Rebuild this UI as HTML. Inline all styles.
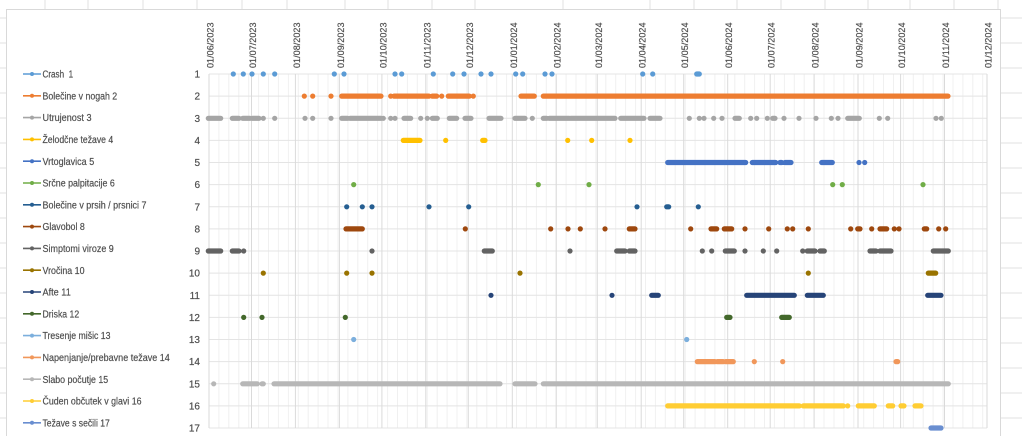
<!DOCTYPE html>
<html><head><meta charset="utf-8"><style>
html,body{margin:0;padding:0;background:#fff;width:1022px;height:436px;overflow:hidden}
svg{display:block}
text{font-family:"Liberation Sans",sans-serif;fill:#4a4a4a;stroke:#595959;stroke-width:0.2}
</style></head><body>
<svg width="1022" height="436" viewBox="0 0 1022 436" xmlns="http://www.w3.org/2000/svg">
<g stroke="#E2E2E2" stroke-width="1" fill="none">
<path d="M45 0V9 M88 0V9 M143 0V9 M197 0V9 M242 0V9 M287 0V9 M345 0V9 M388 0V9 M432 0V9 M475 0V9 M563 0V9 M650 0V9 M694 0V9 M737 0V9 M781 0V9 M825 0V9 M868 0V9 M910 0V9 M954 0V9 M998 0V9"/>
<path d="M0 18H6 M0 43H6 M0 68H6 M0 93H6 M0 118H6 M0 143H6 M0 168H6 M0 193H6 M0 218H6 M0 243H6 M0 268H6 M0 293H6 M0 318H6 M0 343H6 M0 368H6 M0 393H6 M0 418H6"/>
<path d="M1001 18H1022 M1001 43H1022 M1001 68H1022 M1001 93H1022 M1001 118H1022 M1001 143H1022 M1001 168H1022 M1001 193H1022 M1001 218H1022 M1001 243H1022 M1001 268H1022 M1001 293H1022 M1001 318H1022 M1001 343H1022 M1001 368H1022 M1001 393H1022 M1001 418H1022"/>
</g>
<rect x="6.5" y="9.5" width="994" height="440" fill="#fff" stroke="#D9D9D9" stroke-width="1"/>
<path stroke="#F0F0F0" stroke-width="1" fill="none" d="M218.9 74V428 M228.8 74V428 M238.8 74V428 M248.7 74V428 M258.6 74V428 M268.5 74V428 M278.4 74V428 M288.4 74V428 M298.3 74V428 M308.2 74V428 M318.1 74V428 M328 74V428 M338 74V428 M347.9 74V428 M357.8 74V428 M367.7 74V428 M377.6 74V428 M387.6 74V428 M397.5 74V428 M407.4 74V428 M417.3 74V428 M427.2 74V428 M437.2 74V428 M447.1 74V428 M457 74V428 M466.9 74V428 M476.8 74V428 M486.8 74V428 M496.7 74V428 M506.6 74V428 M516.5 74V428 M526.4 74V428 M536.4 74V428 M546.3 74V428 M556.2 74V428 M566.1 74V428 M576 74V428 M586 74V428 M595.9 74V428 M605.8 74V428 M615.7 74V428 M625.6 74V428 M635.6 74V428 M645.5 74V428 M655.4 74V428 M665.3 74V428 M675.2 74V428 M685.2 74V428 M695.1 74V428 M705 74V428 M714.9 74V428 M724.8 74V428 M734.8 74V428 M744.7 74V428 M754.6 74V428 M764.5 74V428 M774.4 74V428 M784.4 74V428 M794.3 74V428 M804.2 74V428 M814.1 74V428 M824 74V428 M834 74V428 M843.9 74V428 M853.8 74V428 M863.7 74V428 M873.6 74V428 M883.5 74V428 M893.5 74V428 M903.4 74V428 M913.3 74V428 M923.2 74V428 M933.1 74V428 M943.1 74V428 M953 74V428 M962.9 74V428 M972.8 74V428 M982.7 74V428"/>
<path stroke="#E4E4E4" stroke-width="1" fill="none" d="M209 74H987 M209 96.1H987 M209 118.3H987 M209 140.4H987 M209 162.5H987 M209 184.6H987 M209 206.8H987 M209 228.9H987 M209 251H987 M209 273.1H987 M209 295.3H987 M209 317.4H987 M209 339.5H987 M209 361.6H987 M209 383.8H987 M209 405.9H987 M209 428H987"/>
<path stroke="#DADADA" stroke-width="1" fill="none" d="M209 74V428 M251.5 74V428 M295.4 74V428 M339.4 74V428 M381.9 74V428 M425.8 74V428 M468.3 74V428 M512.3 74V428 M556.2 74V428 M597.3 74V428 M641.2 74V428 M683.7 74V428 M727.7 74V428 M770.2 74V428 M814.1 74V428 M858 74V428 M900.6 74V428 M944.5 74V428 M987 74V428"/>
<g font-size="9">
<text transform="translate(213.5,68) rotate(-90)" textLength="45.5" lengthAdjust="spacing">01/06/2023</text>
<text transform="translate(256,68) rotate(-90)" textLength="45.5" lengthAdjust="spacing">01/07/2023</text>
<text transform="translate(299.9,68) rotate(-90)" textLength="45.5" lengthAdjust="spacing">01/08/2023</text>
<text transform="translate(343.9,68) rotate(-90)" textLength="45.5" lengthAdjust="spacing">01/09/2023</text>
<text transform="translate(386.4,68) rotate(-90)" textLength="45.5" lengthAdjust="spacing">01/10/2023</text>
<text transform="translate(430.3,68) rotate(-90)" textLength="45.5" lengthAdjust="spacing">01/11/2023</text>
<text transform="translate(472.8,68) rotate(-90)" textLength="45.5" lengthAdjust="spacing">01/12/2023</text>
<text transform="translate(516.8,68) rotate(-90)" textLength="45.5" lengthAdjust="spacing">01/01/2024</text>
<text transform="translate(560.7,68) rotate(-90)" textLength="45.5" lengthAdjust="spacing">01/02/2024</text>
<text transform="translate(601.8,68) rotate(-90)" textLength="45.5" lengthAdjust="spacing">01/03/2024</text>
<text transform="translate(645.7,68) rotate(-90)" textLength="45.5" lengthAdjust="spacing">01/04/2024</text>
<text transform="translate(688.2,68) rotate(-90)" textLength="45.5" lengthAdjust="spacing">01/05/2024</text>
<text transform="translate(732.2,68) rotate(-90)" textLength="45.5" lengthAdjust="spacing">01/06/2024</text>
<text transform="translate(774.7,68) rotate(-90)" textLength="45.5" lengthAdjust="spacing">01/07/2024</text>
<text transform="translate(818.6,68) rotate(-90)" textLength="45.5" lengthAdjust="spacing">01/08/2024</text>
<text transform="translate(862.5,68) rotate(-90)" textLength="45.5" lengthAdjust="spacing">01/09/2024</text>
<text transform="translate(905.1,68) rotate(-90)" textLength="45.5" lengthAdjust="spacing">01/10/2024</text>
<text transform="translate(949,68) rotate(-90)" textLength="45.5" lengthAdjust="spacing">01/11/2024</text>
<text transform="translate(991.5,68) rotate(-90)" textLength="45.5" lengthAdjust="spacing">01/12/2024</text>
</g>
<g font-size="10" text-anchor="end">
<text x="200" y="77.6">1</text>
<text x="200" y="99.7">2</text>
<text x="200" y="121.9">3</text>
<text x="200" y="144">4</text>
<text x="200" y="166.1">5</text>
<text x="200" y="188.2">6</text>
<text x="200" y="210.4">7</text>
<text x="200" y="232.5">8</text>
<text x="200" y="254.6">9</text>
<text x="200" y="276.7">10</text>
<text x="200" y="298.9">11</text>
<text x="200" y="321">12</text>
<text x="200" y="343.1">13</text>
<text x="200" y="365.2">14</text>
<text x="200" y="387.4">15</text>
<text x="200" y="409.5">16</text>
<text x="200" y="431.6">17</text>
</g>
<g stroke-width="1.6" fill="none">
<path d="M23 74H41" stroke="#5B9BD5"/>
<path d="M23 95.8H41" stroke="#ED7D31"/>
<path d="M23 117.6H41" stroke="#A5A5A5"/>
<path d="M23 139.4H41" stroke="#FFC000"/>
<path d="M23 161.2H41" stroke="#4472C4"/>
<path d="M23 183H41" stroke="#70AD47"/>
<path d="M23 204.8H41" stroke="#255E91"/>
<path d="M23 226.6H41" stroke="#9E480E"/>
<path d="M23 248.4H41" stroke="#636363"/>
<path d="M23 270.2H41" stroke="#997300"/>
<path d="M23 292H41" stroke="#264478"/>
<path d="M23 313.8H41" stroke="#43682B"/>
<path d="M23 335.6H41" stroke="#7CAFDD"/>
<path d="M23 357.4H41" stroke="#F1975A"/>
<path d="M23 379.2H41" stroke="#B7B7B7"/>
<path d="M23 401H41" stroke="#FFCD33"/>
<path d="M23 422.8H41" stroke="#698ED0"/>
</g>
<g>
<circle cx="32" cy="74" r="2" fill="#5B9BD5"/>
<circle cx="32" cy="95.8" r="2" fill="#ED7D31"/>
<circle cx="32" cy="117.6" r="2" fill="#A5A5A5"/>
<circle cx="32" cy="139.4" r="2" fill="#FFC000"/>
<circle cx="32" cy="161.2" r="2" fill="#4472C4"/>
<circle cx="32" cy="183" r="2" fill="#70AD47"/>
<circle cx="32" cy="204.8" r="2" fill="#255E91"/>
<circle cx="32" cy="226.6" r="2" fill="#9E480E"/>
<circle cx="32" cy="248.4" r="2" fill="#636363"/>
<circle cx="32" cy="270.2" r="2" fill="#997300"/>
<circle cx="32" cy="292" r="2" fill="#264478"/>
<circle cx="32" cy="313.8" r="2" fill="#43682B"/>
<circle cx="32" cy="335.6" r="2" fill="#7CAFDD"/>
<circle cx="32" cy="357.4" r="2" fill="#F1975A"/>
<circle cx="32" cy="379.2" r="2" fill="#B7B7B7"/>
<circle cx="32" cy="401" r="2" fill="#FFCD33"/>
<circle cx="32" cy="422.8" r="2" fill="#698ED0"/>
</g>
<g font-size="10">
<text x="42.5" y="77.6" textLength="30.6" lengthAdjust="spacingAndGlyphs">Crash&#160; 1</text>
<text x="42.5" y="99.4" textLength="74.7" lengthAdjust="spacingAndGlyphs">Bolečine v nogah 2</text>
<text x="42.5" y="121.2" textLength="49" lengthAdjust="spacingAndGlyphs">Utrujenost 3</text>
<text x="42.5" y="143" textLength="70.7" lengthAdjust="spacingAndGlyphs">Želodčne težave 4</text>
<text x="42.5" y="164.8" textLength="51.7" lengthAdjust="spacingAndGlyphs">Vrtoglavica 5</text>
<text x="42.5" y="186.6" textLength="72.3" lengthAdjust="spacingAndGlyphs">Srčne palpitacije 6</text>
<text x="42.5" y="208.4" textLength="104" lengthAdjust="spacingAndGlyphs">Bolečine v prsih / prsnici 7</text>
<text x="42.5" y="230.2" textLength="42.3" lengthAdjust="spacingAndGlyphs">Glavobol 8</text>
<text x="42.5" y="252" textLength="71.3" lengthAdjust="spacingAndGlyphs">Simptomi viroze 9</text>
<text x="42.5" y="273.8" textLength="42" lengthAdjust="spacingAndGlyphs">Vročina 10</text>
<text x="42.5" y="295.6" textLength="28.3" lengthAdjust="spacingAndGlyphs">Afte 11</text>
<text x="42.5" y="317.4" textLength="36.7" lengthAdjust="spacingAndGlyphs">Driska 12</text>
<text x="42.5" y="339.2" textLength="68" lengthAdjust="spacingAndGlyphs">Tresenje mišic 13</text>
<text x="42.5" y="361" textLength="127.3" lengthAdjust="spacingAndGlyphs">Napenjanje/prebavne težave 14</text>
<text x="42.5" y="382.8" textLength="65.7" lengthAdjust="spacingAndGlyphs">Slabo počutje 15</text>
<text x="42.5" y="404.6" textLength="99" lengthAdjust="spacingAndGlyphs">Čuden občutek v glavi 16</text>
<text x="42.5" y="426.4" textLength="67.3" lengthAdjust="spacingAndGlyphs">Težave s sečili 17</text>
</g>
<g fill="none" stroke-width="5.2" stroke-linecap="round">
<path stroke="#5B9BD5" d="M233.3 74h.01M243.3 74h.01M252 74h.01M263.3 74h.01M274.7 74h.01M334.3 74h.01M344 74h.01M395 74h.01M401.7 74h.01M433.3 74h.01M452.7 74h.01M464 74h.01M481 74h.01M491 74h.01M515.7 74h.01M522.7 74h.01M545 74h.01M552 74h.01M642.7 74h.01M652.7 74h.01M696.7 74H699.3"/>
<path stroke="#ED7D31" d="M304.3 96.1h.01M312.7 96.1h.01M331 96.1h.01M341.7 96.1H381M390.7 96.1h.01M394 96.1H429M432.3 96.1H436.7M441.7 96.1h.01M448.3 96.1H469.3M473.3 96.1h.01M521 96.1H534.3M543.3 96.1H948"/>
<path stroke="#A5A5A5" d="M208.3 118.3H220.7M232.3 118.3H239M242.7 118.3H250M252.3 118.3H259M263.3 118.3h.01M274.7 118.3h.01M305 118.3h.01M312.7 118.3h.01M331 118.3h.01M341.7 118.3H347.7M350 118.3H381M383.3 118.3h.01M390.7 118.3h.01M395 118.3h.01M404 118.3H410.7M420.7 118.3h.01M427.3 118.3h.01M432.3 118.3H437.3M449.3 118.3H456.7M465 118.3H471M489 118.3H501M515 118.3H525M532.3 118.3h.01M543.3 118.3H546.7M549.3 118.3H569.3M570.7 118.3H615M620.7 118.3H644M650 118.3H660M689.3 118.3h.01M699.3 118.3h.01M704 118.3h.01M713.7 118.3h.01M722 118.3h.01M735 118.3H739.3M750.7 118.3h.01M756.7 118.3h.01M767.3 118.3h.01M772.7 118.3H775M784 118.3h.01M799 118.3h.01M816 118.3h.01M831.3 118.3h.01M838 118.3h.01M847.7 118.3H859.3M879.3 118.3h.01M887.7 118.3h.01M936 118.3h.01M941.3 118.3h.01"/>
<path stroke="#FFC000" d="M403.3 140.4H420M445.7 140.4h.01M482.7 140.4H485M567.7 140.4h.01M591.7 140.4h.01M630 140.4h.01"/>
<path stroke="#4472C4" d="M667.7 162.5H745.7M752.3 162.5H775.7M780 162.5H781.7M785 162.5H791M821.7 162.5H832.3M859 162.5h.01M864.7 162.5h.01"/>
<path stroke="#70AD47" d="M353.7 184.6h.01M538.3 184.6h.01M589 184.6h.01M832.7 184.6h.01M842.3 184.6h.01M923 184.6h.01"/>
<path stroke="#255E91" d="M346.7 206.8h.01M362.3 206.8h.01M372 206.8h.01M429 206.8h.01M468.7 206.8h.01M637 206.8h.01M666.7 206.8H668.7M698.3 206.8h.01"/>
<path stroke="#9E480E" d="M346 228.9H362.3M465.3 228.9h.01M550.7 228.9h.01M568 228.9h.01M580.3 228.9h.01M605 228.9h.01M629.3 228.9H635M690.7 228.9h.01M711 228.9H716.7M724.3 228.9H731.7M745 228.9h.01M768.7 228.9h.01M787.3 228.9h.01M792.7 228.9h.01M808.3 228.9h.01M850.7 228.9h.01M857.7 228.9H860M871.7 228.9h.01M880 228.9H886.7M894.3 228.9h.01M899 228.9h.01M924.3 228.9H926.7M938.7 228.9h.01M945.7 228.9h.01"/>
<path stroke="#636363" d="M208.3 251H220.7M232.3 251H239M243.7 251h.01M372 251h.01M484.3 251H492.3M570 251h.01M616.7 251H625M629.3 251H635M702.3 251h.01M711.7 251h.01M725.3 251H734.3M745 251h.01M763.3 251h.01M776.7 251h.01M802.7 251h.01M807.3 251H815M820 251H824.3M870 251H876M880 251H891M933.3 251H948.3"/>
<path stroke="#997300" d="M263.3 273.1h.01M346.7 273.1h.01M372 273.1h.01M520 273.1h.01M808.3 273.1h.01M928.3 273.1H935.7"/>
<path stroke="#264478" d="M491 295.3h.01M612 295.3h.01M651.7 295.3H658.3M746.7 295.3H794.3M807.3 295.3H823.3M927.7 295.3H941"/>
<path stroke="#43682B" d="M243.7 317.4h.01M262 317.4h.01M345.3 317.4h.01M726.7 317.4H730M781.7 317.4H789.3"/>
<path stroke="#7CAFDD" d="M353.7 339.5h.01M686.7 339.5h.01"/>
<path stroke="#F1975A" d="M697.3 361.6H715M717.3 361.6H723.3M725.7 361.6H733.3M754.3 361.6h.01M782.7 361.6h.01M896 361.6H897.7"/>
<path stroke="#B7B7B7" d="M213.7 383.8h.01M242.7 383.8H257.3M262 383.8H263.3M274 383.8H500M515 383.8H535M543.3 383.8H948.3"/>
<path stroke="#FFCD33" d="M667.7 405.9H799.3M803.3 405.9H843.3M847.7 405.9h.01M858.3 405.9H874.3M888.3 405.9H892.7M901 405.9H904M915 405.9H921"/>
<path stroke="#698ED0" d="M931 428H941"/>
</g>
</svg>
</body></html>
